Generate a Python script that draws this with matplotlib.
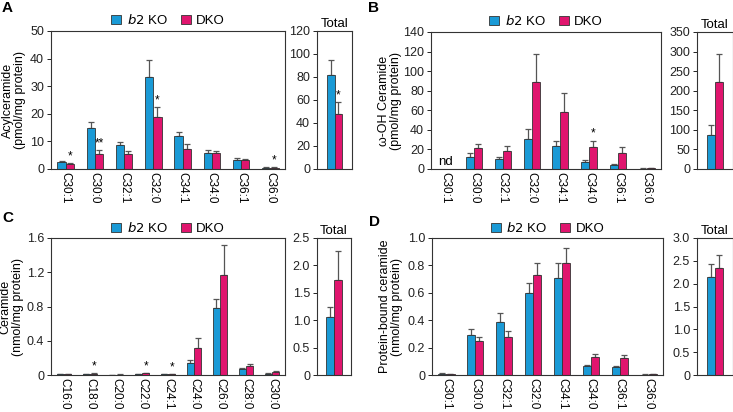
import numpy as np
import matplotlib
matplotlib.use("Agg")
import matplotlib.pyplot as plt
from matplotlib.patches import Patch

plt.rcParams['font.family'] = ['Liberation Sans', 'DejaVu Sans']

BLUE = '#1a9ad6'
PINK = '#e0156e'

# ---------------- data ----------------
cats_a = ['C30:1', 'C30:0', 'C32:1', 'C32:0', 'C34:1', 'C34:0', 'C36:1', 'C36:0']
a_b2 = [2.7, 15.0, 8.7, 33.5, 12.0, 5.7, 3.1, 0.5]
a_b2_err = [0.3, 2.2, 1.0, 6.0, 1.5, 1.3, 0.9, 0.2]
a_dko = [1.8, 5.5, 5.4, 19.0, 7.3, 5.8, 3.1, 0.5]
a_dko_err = [0.4, 1.3, 1.3, 3.5, 1.8, 0.7, 0.7, 0.1]
a_stars = ['*', '**', '', '*', '', '', '', '*']
a_tot = [82, 48]
a_tot_err = [13, 10]
a_tot_star = '*'

cats_b = ['C30:1', 'C30:0', 'C32:1', 'C32:0', 'C34:1', 'C34:0', 'C36:1', 'C36:0']
b_b2 = [np.nan, 12.5, 10.0, 31.0, 23.0, 7.0, 4.5, 0.5]
b_b2_err = [0, 3.5, 2.5, 10.0, 6.0, 2.0, 1.0, 0.2]
b_dko = [np.nan, 21.5, 18.0, 89.0, 58.5, 22.0, 16.0, 0.7]
b_dko_err = [0, 4.5, 5.0, 29.0, 19.0, 7.0, 6.0, 0.3]
b_stars = ['', '', '', '', '', '*', '', '']
b_tot = [87, 223]
b_tot_err = [26, 72]

cats_c = ['C16:0', 'C18:0', 'C20:0', 'C22:0', 'C24:1', 'C24:0', 'C26:0', 'C28:0', 'C30:0']
c_b2 = [0.007, 0.006, 0.004, 0.012, 0.006, 0.145, 0.78, 0.075, 0.015]
c_b2_err = [0.002, 0.002, 0.001, 0.003, 0.002, 0.035, 0.11, 0.01, 0.005]
c_dko = [0.012, 0.014, 0.005, 0.02, 0.013, 0.32, 1.17, 0.105, 0.04]
c_dko_err = [0.003, 0.004, 0.001, 0.004, 0.003, 0.11, 0.35, 0.02, 0.01]
c_stars = ['', '*', '', '*', '*', '', '', '', '']
c_tot = [1.06, 1.74]
c_tot_err = [0.18, 0.52]

cats_d = ['C30:1', 'C30:0', 'C32:1', 'C32:0', 'C34:1', 'C34:0', 'C36:1', 'C36:0']
d_b2 = [0.01, 0.29, 0.39, 0.60, 0.71, 0.065, 0.06, 0.003]
d_b2_err = [0.002, 0.045, 0.06, 0.07, 0.11, 0.005, 0.005, 0.001]
d_dko = [0.007, 0.25, 0.275, 0.73, 0.815, 0.13, 0.125, 0.004]
d_dko_err = [0.002, 0.025, 0.045, 0.09, 0.11, 0.02, 0.02, 0.001]
d_stars = [''] * 8
d_tot = [2.14, 2.35]
d_tot_err = [0.28, 0.28]

W, H = 733, 412
fig = plt.figure(figsize=(W / 100, H / 100), dpi=100)


def px_axes(l, t, r, b):
    return fig.add_axes([l / W, 1 - b / H, (r - l) / W, (b - t) / H])


def style(ax):
    for s in ax.spines.values():
        s.set_linewidth(0.8)
        s.set_color('#333333')
    ax.tick_params(axis='y', labelsize=9, length=3, width=0.7, pad=2, colors='#222222')
    ax.tick_params(axis='x', length=0)


BW = 0.28
EKW = dict(fmt='none', ecolor='#555555', elinewidth=0.9, capsize=2.2, capthick=0.9)


def bars(ax, x, v1, e1, v2, e2):
    v1 = np.array(v1, float); v2 = np.array(v2, float)
    ax.bar(x - BW / 2, v1, BW, color=BLUE, edgecolor='#333333', linewidth=0.6, zorder=2)
    ax.bar(x + BW / 2, v2, BW, color=PINK, edgecolor='#333333', linewidth=0.6, zorder=2)
    m1 = ~np.isnan(v1); m2 = ~np.isnan(v2)
    e1 = np.array(e1, float); e2 = np.array(e2, float)
    ax.errorbar(x[m1] - BW / 2, v1[m1], yerr=[np.zeros(m1.sum()), e1[m1]], zorder=1, **EKW)
    ax.errorbar(x[m2] + BW / 2, v2[m2], yerr=[np.zeros(m2.sum()), e2[m2]], zorder=1, **EKW)


def panel(letter, main_box, tot_box, cats, v1, e1, v2, e2, stars, tot, tot_err, tot_star,
          ylim, yticks, ylabels, tylim, tyticks, tylabels, ylabel, label_x, letter_xy,
          legend_y, nd=False):
    ax = px_axes(*main_box)
    x = np.arange(len(cats))
    bars(ax, x, v1, e1, v2, e2)
    ax.set_xlim(-0.5, len(cats) - 0.5)
    ax.set_ylim(*ylim)
    ax.set_yticks(yticks)
    ax.set_yticklabels(ylabels)
    ax.set_xticks(x)
    ax.set_xticklabels(cats, rotation=-90, fontsize=8.5)
    style(ax)
    ax.tick_params(axis='x', pad=2)
    ax.set_ylabel(ylabel, fontsize=9, linespacing=1.1, va='center')
    ax.yaxis.set_label_coords((label_x - main_box[0]) / (main_box[2] - main_box[0]), 0.5)
    span = ylim[1] - ylim[0]
    for i, s in enumerate(stars):
        if s:
            top = v2[i] + e2[i]
            ax.text(x[i] + BW / 2, top + span * 0.005, s, ha='center', va='bottom', fontsize=8.5)
    if nd:
        ax.text(0, span * 0.01, 'nd', ha='center', va='bottom', fontsize=9.5)
    handles = [Patch(facecolor=BLUE, edgecolor='#333333', linewidth=0.6),
               Patch(facecolor=PINK, edgecolor='#333333', linewidth=0.6)]
    cx = (main_box[0] + main_box[2]) / 2 / W
    fig.legend(handles, ['$\\it{b2}$ KO', 'DKO'], loc='center', ncol=2, frameon=False,
               bbox_to_anchor=(cx, 1 - legend_y / H), fontsize=9.5, handlelength=0.75,
               handleheight=0.75, handletextpad=0.4, columnspacing=1.0)

    at = px_axes(*tot_box)
    xt = np.array([0.0])
    bars(at, xt, [tot[0]], [tot_err[0]], [tot[1]], [tot_err[1]])
    at.set_xlim(-0.62, 0.62)
    at.set_ylim(*tylim)
    at.set_yticks(tyticks)
    at.set_yticklabels(tylabels)
    at.set_xticks([])
    style(at)
    at.set_title('Total', fontsize=9.5, pad=3)
    if tot_star:
        at.text(BW / 2, tot[1] + tot_err[1] + (tylim[1] - tylim[0]) * 0.005, tot_star,
                ha='center', va='bottom', fontsize=8.5)
    fig.text(letter_xy[0] / W, 1 - letter_xy[1] / H, letter, fontsize=11, fontweight='bold',
             ha='left', va='center')


panel('A', (51, 31, 285, 169), (317, 31, 352, 169), cats_a, a_b2, a_b2_err, a_dko, a_dko_err,
      a_stars, a_tot, a_tot_err, a_tot_star,
      (0, 50), [0, 10, 20, 30, 40, 50], ['0', '10', '20', '30', '40', '50'],
      (0, 120), [0, 20, 40, 60, 80, 100, 120], ['0', '20', '40', '60', '80', '100', '120'],
      'Acylceramide\n(pmol/mg protein)', 14, (2, 8), 20)

panel('B', (431, 32, 661, 169), (697, 32, 733, 169), cats_b, b_b2, b_b2_err, b_dko, b_dko_err,
      b_stars, b_tot, b_tot_err, '',
      (0, 140), list(range(0, 141, 20)), [str(v) for v in range(0, 141, 20)],
      (0, 350), list(range(0, 351, 50)), [str(v) for v in range(0, 351, 50)],
      'ω-OH Ceramide\n(pmol/mg protein)', 390, (368, 8), 21, nd=True)

panel('C', (51, 238, 285, 375), (317, 238, 351, 375), cats_c, c_b2, c_b2_err, c_dko, c_dko_err,
      c_stars, c_tot, c_tot_err, '',
      (0, 1.6), [0, 0.4, 0.8, 1.2, 1.6], ['0', '0.4', '0.8', '1.2', '1.6'],
      (0, 2.5), [0, 0.5, 1.0, 1.5, 2.0, 2.5], ['0', '0.5', '1.0', '1.5', '2.0', '2.5'],
      'Ceramide\n(nmol/mg protein)', 12, (2, 218), 228)

panel('D', (432, 238, 663, 375), (697, 238, 733, 375), cats_d, d_b2, d_b2_err, d_dko, d_dko_err,
      d_stars, d_tot, d_tot_err, '',
      (0, 1.0), [0, 0.2, 0.4, 0.6, 0.8, 1.0], ['0', '0.2', '0.4', '0.6', '0.8', '1.0'],
      (0, 3.0), [0, 0.5, 1.0, 1.5, 2.0, 2.5, 3.0], ['0', '0.5', '1.0', '1.5', '2.0', '2.5', '3.0'],
      'Protein-bound ceramide\n(nmol/mg protein)', 391, (369, 222), 228)

fig.savefig('out.png', dpi=100)
